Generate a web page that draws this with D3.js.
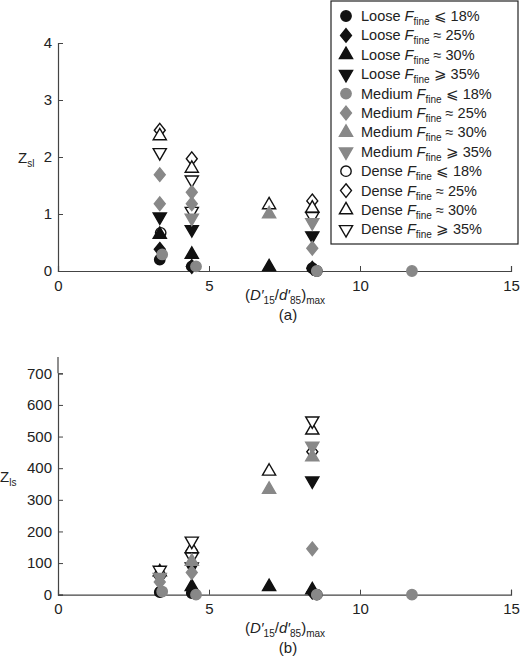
<!DOCTYPE html><html><head><meta charset="utf-8">
<script src="https://cdn.jsdelivr.net/npm/d3@7"></script>
<style>body{margin:0;background:#fff}text{font-family:"Liberation Sans",Arial,sans-serif;fill:#222}</style>
</head><body><svg id="c" width="520" height="656"></svg>
<script>
const seriesNames=["Loose ≤18","Loose ≈25","Loose ≈30","Loose ≥35","Medium ≤18","Medium ≈25","Medium ≈30","Medium ≥35","Dense ≤18","Dense ≈25","Dense ≈30","Dense ≥35"];
const legendDensity=["Loose","Loose","Loose","Loose","Medium","Medium","Medium","Medium","Dense","Dense","Dense","Dense"];
const legendOp=["≤","≈","≈","≥","≤","≈","≈","≥","≤","≈","≈","≥"];
const legendPct=["18%","25%","30%","35%","18%","25%","30%","35%","18%","25%","30%","35%"];
const xTicks=[0,5,10,15];
const yTicksA=[0,1,2,3,4];
const yTicksB=[0,100,200,300,400,500,600,700];
const drawOrder=[8,9,10,11,0,1,2,3,5,6,7,4];
const zslData=[
 [[3.37,0.2],[4.43,0.08],[8.42,0.05]],
 [[3.37,0.38],[4.43,0.08],[8.42,0.05]],
 [[3.37,0.64],[4.43,0.29],[6.99,0.07]],
 [[3.37,0.95],[4.43,0.73],[8.42,0.62]],
 [[3.45,0.29],[4.57,0.08],[8.57,0],[11.72,0]],
 [[3.37,1.18],[3.37,1.69],[4.43,1.38],[4.43,1.18],[8.42,0.4]],
 [[6.99,1.0]],
 [[4.43,0.93],[8.42,0.85]],
 [[3.4,0.67],[8.57,0]],
 [[3.37,2.47],[4.43,1.97],[8.42,1.23]],
 [[3.37,2.37],[4.43,1.8],[6.99,1.16],[8.42,1.1]],
 [[3.37,2.08],[4.43,1.6],[4.43,1.05],[8.42,0.96]]
];
const zlsData=[
 [[3.37,8],[4.43,5]],
 [[8.42,8]],
 [[4.43,25],[6.99,25],[8.42,15]],
 [[4.43,88],[8.42,360]],
 [[3.45,10],[4.57,0],[8.57,0],[11.72,0]],
 [[3.37,40],[4.43,70],[8.42,145]],
 [[4.43,105],[6.99,333],[8.42,435]],
 [[3.37,55],[8.42,470]],
 [[3.4,10],[8.57,0]],
 [[3.37,57],[4.43,140],[8.42,452]],
 [[3.37,72],[4.43,145],[6.99,390],[8.42,520]],
 [[3.37,78],[4.43,170],[4.43,120],[8.42,550]]
];
const svg=d3.select("#c");
const diamond={draw(c,size){const h=Math.sqrt(size)*0.72,w=h*0.8;c.moveTo(0,-h);c.lineTo(w,0);c.lineTo(0,h);c.lineTo(-w,0);c.closePath();}};
const shapes=[d3.symbolCircle,diamond,d3.symbolTriangle,d3.symbolTriangle];
function sym(i){
  const s=i%4, grp=Math.floor(i/4);
  const fill=grp===0?"#111":grp===1?"#888":"#fff";
  const stroke=grp===1?"#888":"#111";
  const path=d3.symbol(shapes[s],s===0?85:s===1?90:75)();
  return {path,fill,stroke,rot:s===3?180:0};
}
const x=d3.scaleLinear().domain([0,15]).range([58,511]);
function styleAxis(a){a.selectAll("text").attr("font-size",15);a.select(".domain").attr("stroke","#444").attr("stroke-width",1.2);a.selectAll("line").attr("stroke","#444");}
function panel(data,yDom,yTicks,y0,y1,label,cap,capY){
  const y=d3.scaleLinear().domain(yDom).range([y0,y1]);
  const g=svg.append("g");
  g.append("g").attr("transform",`translate(0,${y0})`).call(d3.axisBottom(x).tickValues(xTicks).tickFormat(d3.format("d")).tickSize(-5).tickPadding(6))
   .call(a=>{styleAxis(a);a.selectAll("text").attr("dy","0.9em");});
  g.append("g").attr("transform",`translate(58,0)`).call(d3.axisLeft(y).tickValues(yTicks).tickFormat(d3.format("d")).tickSize(-5).tickPadding(6))
   .call(styleAxis);
  drawOrder.forEach(i=>{
    const s=sym(i);
    g.selectAll(null).data(data[i]).join("path").attr("d",s.path)
     .attr("transform",d=>`translate(${x(d[0])},${y(d[1])}) rotate(${s.rot})`)
     .attr("fill",s.fill).attr("stroke",s.stroke).attr("stroke-width",1.4);
  });
  const t=g.append("text").attr("x",label.x).attr("y",label.y).attr("font-size",15);
  t.append("tspan").text("Z");
  t.append("tspan").attr("font-size",10).attr("dy",4).text(label.sub);
  const xl=g.append("text").attr("x",285).attr("y",capY).attr("text-anchor","middle").attr("font-size",15);
  xl.append("tspan").text("(");
  xl.append("tspan").attr("font-style","italic").text("D′");
  xl.append("tspan").attr("font-size",10).attr("dy",4).text("15");
  xl.append("tspan").attr("dy",-4).text("/");
  xl.append("tspan").attr("font-style","italic").text("d′");
  xl.append("tspan").attr("font-size",10).attr("dy",4).text("85");
  xl.append("tspan").attr("dy",-4).text(")");
  xl.append("tspan").attr("font-size",10).attr("dy",4).text("max");
  g.append("text").attr("x",288).attr("y",capY+20).attr("text-anchor","middle").attr("font-size",15).text(cap);
}
panel(zslData,[0,4],yTicksA,271,43,{x:18,y:163,sub:"sl"},"(a)",300);
panel(zlsData,[0,700],yTicksB,594.7,373.3,{x:0,y:482,sub:"ls"},"(b)",633);
svg.append("line").attr("x1",58).attr("x2",58).attr("y1",357).attr("y2",373.3).attr("stroke","#444").attr("stroke-width",1.2);
const lg=svg.append("g");
lg.append("rect").attr("x",331).attr("y",1).attr("width",187).attr("height",243).attr("fill","#fff").attr("stroke","#222").attr("stroke-width",1.2);
seriesNames.forEach((n,i)=>{
  const yy=16+i*19.4;
  const s=sym(i);
  lg.append("path").attr("d",s.path).attr("transform",`translate(346,${yy}) rotate(${s.rot})`).attr("fill",s.fill).attr("stroke",s.stroke).attr("stroke-width",1.4);
  const t=lg.append("text").attr("x",361).attr("y",yy+5).attr("font-size",14.5);
  t.append("tspan").text(legendDensity[i]+" ");
  t.append("tspan").attr("font-style","italic").text("F");
  t.append("tspan").attr("font-size",10).attr("dy",4).text("fine");
  t.append("tspan").attr("dy",-4).text(" "+(legendOp[i]==="≤"?"⩽":legendOp[i]==="≥"?"⩾":"≈")+" "+legendPct[i]);
});
</script></body></html>
